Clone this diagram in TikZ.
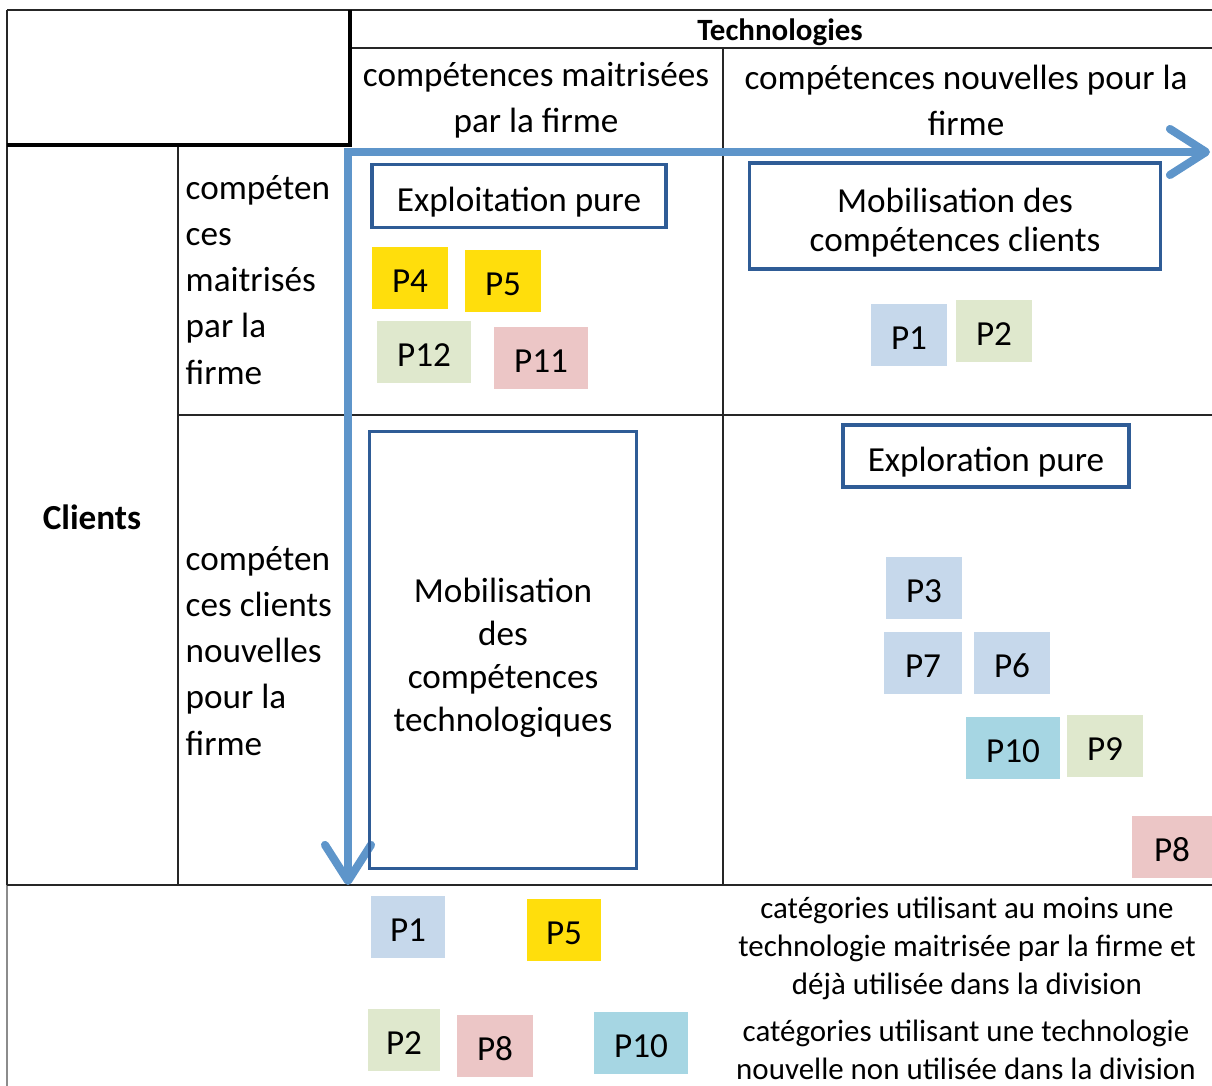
\documentclass[tikz,border=0pt]{standalone}
\usepackage{fontspec}
\setmainfont{Carlito}
\usetikzlibrary{arrows.meta}

\definecolor{boxblue}{RGB}{47,92,150}
\definecolor{arrowblue}{RGB}{94,149,202}
\definecolor{pyellow}{RGB}{255,222,12}
\definecolor{pblue}{RGB}{198,216,235}
\definecolor{pgreen}{RGB}{223,232,205}
\definecolor{ppink}{RGB}{236,198,198}
\definecolor{pcyan}{RGB}{166,214,227}

\begin{document}
\begin{tikzpicture}[x=0.01cm,y=-0.01cm,font=\fontsize{10}{13.1}\selectfont,
  grid/.style={line width=0.6pt,black!85},
  thickgrid/.style={line width=1.3pt,black},
  bluebox/.style={draw=boxblue,line width=1pt,inner sep=0pt},
  boxtext/.style={align=center,inner sep=0pt},
  postit/.style={inner sep=0pt,minimum width=0.75cm,minimum height=0.62cm,text height=8.1pt,text depth=0pt},
  widepostit/.style={postit,minimum width=0.93cm},
  legend/.style={align=center,font=\fontsize{8.8}{10.8}\selectfont}]

\useasboundingbox (0,0) rectangle (1212,1086);

% table
\draw[grid] (7,10) -- (1212,10);
\draw[grid] (350,48) -- (1212,48);
\draw[grid] (723,48) -- (723,885);
\draw[grid] (7,10) -- (7,885);
\draw[line width=0.6pt,black!45] (7,885) -- (7,1086);
\draw[grid] (178,145) -- (178,885);
\draw[grid] (178,415) -- (1212,415);
\draw[grid] (7,885) -- (1212,885);
\draw[thickgrid] (350,10) -- (350,145) -- (7,145);

% headers
\node[font=\fontsize{8.8}{10.8}\selectfont\bfseries] (tech) at (780,32) {Technologies};
\node[align=center] (tcm) at (536,100) {compétences maitrisées\\par la firme};
\node[align=center] (tcn) at (966,100) {compétences nouvelles pour la\\firme};
\node[font=\fontsize{10}{13.1}\selectfont\bfseries] (cli) at (92,517) {Clients};
\node[anchor=west,align=left,inner sep=0pt] (ccm) at (185,280) {compéten\\ces\\maitrisés\\par la\\firme};
\node[anchor=west,align=left,inner sep=0pt] (ccn) at (185,651) {compéten\\ces clients\\nouvelles\\pour la\\firme};

% axes
\coordinate (techend) at (1210,152);
\coordinate (corner) at (348,152);
\coordinate (cliend) at (348,885);
\draw[arrowblue,line width=2.3pt,line join=miter,
  {Straight Barb[length=3.6mm,width=4.6mm,round]}-{Straight Barb[length=3.6mm,width=4.6mm,round]}]
  (techend) -- (corner) -- (cliend);

% strategies
\node[bluebox,minimum width=2.94cm,minimum height=0.63cm] (expl) at (519,196) {};
\node[boxtext] (expltxt) at ([yshift=-0.06cm]expl.center) {Exploitation pure};
\node[bluebox,minimum width=4.11cm,minimum height=1.06cm] (mobcli) at (955,216) {};
\node[boxtext,font=\fontsize{10}{11.1}\selectfont] (mobclitxt) at ([yshift=-0.065cm]mobcli.center) {Mobilisation des\\compétences clients};
\node[bluebox,minimum width=2.86cm,minimum height=0.62cm] (explo) at (986,456) {};
\node[boxtext] (explotxt) at ([yshift=-0.06cm]explo.center) {Exploration pure};
\node[bluebox,minimum width=2.67cm,minimum height=4.37cm] (mobtech) at (503,650) {};
\node[boxtext,font=\fontsize{10}{12.2}\selectfont] (mobtechtxt) at ([yshift=-0.08cm]mobtech.center) {Mobilisation\\des\\compétences\\technologiques};

% projects
\node[postit,fill=pyellow] (p4) at (410,278) {P4};
\node[postit,fill=pyellow] (p5) at (503,281) {P5};
\node[widepostit,fill=pgreen] (p12) at (424,352) {P12};
\node[widepostit,fill=ppink] (p11) at (541,358) {P11};
\node[postit,fill=pblue] (p1) at (909,335) {P1};
\node[postit,fill=pgreen] (p2) at (994,331) {P2};
\node[postit,fill=pblue] (p3) at (924,588) {P3};
\node[postit,fill=pblue,minimum width=0.78cm] (p7) at (923,663) {P7};
\node[postit,fill=pblue] (p6) at (1012,663) {P6};
\node[widepostit,fill=pcyan] (p10) at (1013,748) {P10};
\node[postit,fill=pgreen] (p9) at (1105,746) {P9};
\node[postit,fill=ppink,minimum width=0.8cm] (p8) at (1172,847) {P8};

% legend
\node[postit,fill=pblue,minimum width=0.74cm] (lp1) at (408,927) {P1};
\node[postit,fill=pyellow,minimum width=0.73cm] (lp5) at (564,930) {P5};
\node[postit,fill=pgreen,minimum width=0.72cm] (lp2) at (404,1040) {P2};
\node[postit,fill=ppink] (lp8) at (495,1046) {P8};
\node[widepostit,fill=pcyan] (lp10) at (641,1043) {P10};
\node[legend] (leg1) at (967,948) {catégories utilisant au moins une\\technologie maitrisée par la firme et\\déjà utilisée dans la division};
\node[legend] (leg2) at (966,1050) {catégories utilisant une technologie\\nouvelle non utilisée dans la division};

\end{tikzpicture}
\end{document}
